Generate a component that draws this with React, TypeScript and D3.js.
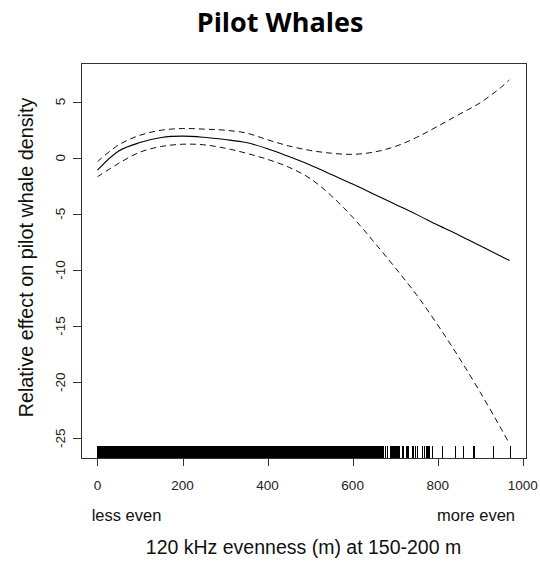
import React from 'react';
import * as d3 from 'd3';

const xValues = [0, 50, 100, 150, 200, 250, 300, 350, 400, 450, 500, 550, 600, 650, 700, 750, 800, 850, 900, 950, 969];
const fitValues = [-1.1, 0.6, 1.35, 1.8, 1.92, 1.82, 1.62, 1.35, 0.8, 0.1, -0.65, -1.5, -2.35, -3.25, -4.15, -5.05, -6.0, -6.9, -7.85, -8.8, -9.15];
const upperValues = [-0.35, 1.15, 2.0, 2.45, 2.6, 2.55, 2.45, 2.2, 1.6, 1.05, 0.65, 0.4, 0.3, 0.5, 1.0, 1.8, 2.8, 3.85, 4.9, 6.3, 6.95];
const lowerValues = [-1.7, -0.5, 0.5, 1.0, 1.2, 1.15, 0.85, 0.4, -0.15, -0.85, -1.85, -3.4, -5.3, -7.5, -9.8, -12.2, -14.9, -17.8, -20.9, -24.2, -25.5];

// saturated part of the rug (observations too dense to separate)
const rugDenseRange = [0, 675];
const rugValues = [676.3, 681.7, 688.1, 690.4, 692.8, 695.1, 697.5, 699.9, 702.2, 704.6, 706.9, 710, 715.6, 719.4, 725.7, 728.1, 731.2, 739.2, 742.9, 746.9, 752.4, 762.7, 768.8, 772.8, 775.2, 777.5, 780.6, 786.3, 809.8, 839.9, 860.6, 883, 886.3, 930.6, 968.9];

const xTicks = [0, 200, 400, 600, 800, 1000];
const yTicks = [-25, -20, -15, -10, -5, 0, 5];

const title = 'Pilot Whales';
const xLabel = '120 kHz evenness (m) at 150-200 m';
const yLabel = 'Relative effect on pilot whale density';
const leftNote = 'less even';
const rightNote = 'more even';

export default function App() {
  const W = 540, H = 565;
  const L = 81, R = 526, T = 63, B = 458;
  const x = d3.scaleLinear().domain([-38.8, 1007.7]).range([L, R]);
  const y = d3.scaleLinear().domain([-26.76, 8.44]).range([B, T]);
  const mk = (vals: number[]) =>
    d3.line<number>().x((_, i) => x(xValues[i])).y((d) => y(d)).curve(d3.curveCatmullRom.alpha(0.5))(vals) || '';
  const font = '"Liberation Sans", Arial, sans-serif';
  const rugH = 12;
  const tick = 8;
  const px = (v: number) => Math.round(x(v)) + 0.5;
  return (
    <svg width={W} height={H} style={{ position: 'absolute', left: 0, top: 0, display: 'block', background: '#fff' }}>
      <text x={280} y={32} textAnchor="middle" fontFamily='"Open Sans", sans-serif' fontWeight={700} fontSize={27} fill="#000">{title}</text>
      <rect x={L + 0.5} y={T + 0.5} width={R - L} height={B - T} fill="none" stroke="#333" strokeWidth={1} />
      {/* rug */}
      <rect x={Math.round(x(rugDenseRange[0]))} y={B - rugH} width={Math.round(x(rugDenseRange[1]) - x(rugDenseRange[0]))} height={rugH} fill="#000" />
      {rugValues.map((v, i) => (
        <line key={i} x1={px(v)} x2={px(v)} y1={B - rugH} y2={B} stroke="#000" strokeWidth={1} shapeRendering="crispEdges" />
      ))}
      {/* curves */}
      <path d={mk(upperValues)} fill="none" stroke="#111" strokeWidth={1} strokeDasharray="6,4" />
      <path d={mk(lowerValues)} fill="none" stroke="#111" strokeWidth={1} strokeDasharray="6,4" />
      <path d={mk(fitValues)} fill="none" stroke="#000" strokeWidth={1.1} />
      {/* x axis */}
      <line x1={x(xTicks[0])} x2={x(xTicks[xTicks.length - 1])} y1={B + 0.5} y2={B + 0.5} stroke="#333" />
      {xTicks.map((t) => (
        <g key={t}>
          <line x1={px(t)} x2={px(t)} y1={B} y2={B + tick} stroke="#333" />
          <text x={x(t)} y={490} textAnchor="middle" fontFamily={font} fontSize={13.5} fill="#222">{t}</text>
        </g>
      ))}
      {/* y axis */}
      <line x1={L + 0.5} x2={L + 0.5} y1={y(yTicks[0])} y2={y(yTicks[yTicks.length - 1])} stroke="#333" />
      {yTicks.map((t) => (
        <g key={t}>
          <line x1={L - tick} x2={L} y1={Math.round(y(t)) + 0.5} y2={Math.round(y(t)) + 0.5} stroke="#333" />
          <text transform={`translate(65,${y(t)}) rotate(-90)`} textAnchor="middle" fontFamily={font} fontSize={13.5} fill="#222">{t}</text>
        </g>
      ))}
      <text transform={`translate(33,${(T + B) / 2 - 3}) rotate(-90)`} textAnchor="middle" fontFamily={font} fontSize={19.8} fill="#111">{yLabel}</text>
      <text x={(L + R) / 2} y={554} textAnchor="middle" fontFamily={font} fontSize={19.5} fill="#111">{xLabel}</text>
      <text x={91.7} y={520.7} textAnchor="start" fontFamily={font} fontSize={16.5} fill="#111">{leftNote}</text>
      <text x={515} y={520.7} textAnchor="end" fontFamily={font} fontSize={16.5} fill="#111">{rightNote}</text>
    </svg>
  );
}
